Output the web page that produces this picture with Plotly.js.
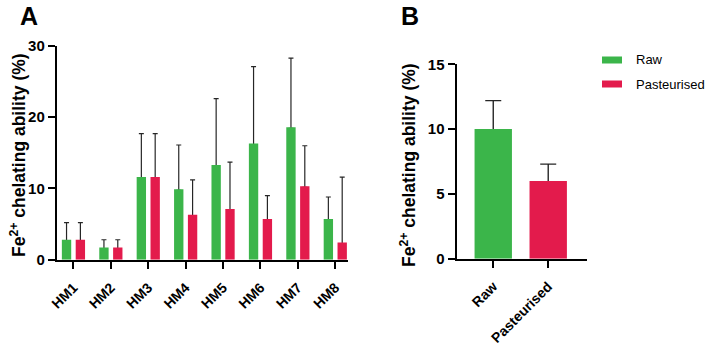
<!DOCTYPE html>
<html>
<head>
<meta charset="utf-8">
<script src="https://cdn.plot.ly/plotly-3.0.1.min.js"></script>
<style>html,body{margin:0;padding:0;background:#fff;}#chart{width:708px;height:344px;}</style>
</head>
<body>
<div id="chart"></div>
<script>
// Panel A: honey samples
const samples = ['HM1', 'HM2', 'HM3', 'HM4', 'HM5', 'HM6', 'HM7', 'HM8'];
const rawMean = [2.8, 1.7, 11.6, 9.9, 13.3, 16.3, 18.6, 5.7];
const rawSD = [2.4, 1.1, 6.1, 6.2, 9.3, 10.8, 9.7, 3.1];
const pastMean = [2.8, 1.7, 11.6, 6.3, 7.1, 5.7, 10.3, 2.4];
const pastSD = [2.4, 1.1, 6.1, 4.9, 6.6, 3.3, 5.7, 9.2];

// Panel B: pooled treatment means
const treatments = ['Raw', 'Pasteurised'];
const treatMean = [10.0, 6.0];
const treatSD = [2.2, 1.3];

const GREEN = '#3bb54a';
const RED = '#e31b4c';
const ERR = '#262626';
const FONT = 'Arial, "Liberation Sans", sans-serif';

// Upper-only error bars: each whisker is carried by a transparent bar
// drawn first, so the solid bar painted afterwards hides the lower end.
const upperErr = (sd, tuck, thickness, width) => ({
  type: 'data', symmetric: false, array: sd,
  arrayminus: sd.map(() => tuck),
  color: ERR, thickness: thickness, width: width
});

function barPair(x, y, sd, opts) {
  const base = {type: 'bar', x: x, y: y, width: opts.width, offset: opts.offset,
                xaxis: opts.xaxis, yaxis: opts.yaxis, showlegend: false, hoverinfo: 'skip'};
  const whiskers = Object.assign({}, base, {
    marker: {color: 'rgba(0,0,0,0)'},
    error_y: upperErr(sd, opts.tuck, opts.thickness, opts.cap)
  });
  const bars = Object.assign({}, base, {name: opts.name, marker: {color: opts.color}});
  return [whiskers, bars];
}

const traces = [].concat(
  barPair(samples, rawMean, rawSD, {name: 'Raw', color: GREEN, width: 0.25, offset: -0.31,
    xaxis: 'x', yaxis: 'y', tuck: 0.16, thickness: 1.2, cap: 2.5}),
  barPair(samples, pastMean, pastSD, {name: 'Pasteurised', color: RED, width: 0.25, offset: 0.06,
    xaxis: 'x', yaxis: 'y', tuck: 0.16, thickness: 1.2, cap: 2.5}),
  barPair(treatments, treatMean, treatSD, {name: 'Treatment', color: [GREEN, RED], width: 0.68, offset: -0.34,
    xaxis: 'x2', yaxis: 'y2', tuck: 0.12, thickness: 1.4, cap: 8})
);

const xCommon = {
  type: 'category', showline: true, linecolor: '#000', linewidth: 2.2,
  ticks: 'outside', ticklen: 7, tickwidth: 2, tickcolor: '#000',
  tickangle: -45, ticklabelstandoff: 5,
  tickfont: {family: FONT, size: 14, color: '#000', weight: 'bold'},
  showgrid: false, zeroline: false, fixedrange: true
};
const yCommon = {
  showline: true, linecolor: '#000', linewidth: 2.2,
  ticks: 'outside', ticklen: 7, tickwidth: 2, tickcolor: '#000',
  tickfont: {family: FONT, size: 15, color: '#000', weight: 'bold'},
  showgrid: false, zeroline: false, fixedrange: true
};

const yTitle = 'Fe<sup>2+</sup> chelating ability (%)';

// legend swatches and labels drawn as shapes/annotations
const legendItems = [
  {label: 'Raw', color: GREEN, y: 60},
  {label: 'Pasteurised', color: RED, y: 84}
];
const H = 344;
const legendShapes = legendItems.map(it => ({
  type: 'rect', xref: 'paper', yref: 'paper',
  x0: 602 / 708, x1: 622 / 708, y0: (H - it.y - 3.5) / H, y1: (H - it.y + 3.5) / H,
  fillcolor: it.color, line: {width: 0}
}));
const legendText = legendItems.map(it => ({
  xref: 'paper', yref: 'paper', x: 634 / 708, y: (H - it.y) / H,
  xanchor: 'left', yanchor: 'middle', showarrow: false,
  text: it.label, font: {family: FONT, size: 13, color: '#000'}
}));

const titleFont = {family: FONT, size: 17.5, color: '#000', weight: 'bold'};

const layout = {
  width: 708, height: 344,
  margin: {l: 0, r: 0, t: 0, b: 0},
  paper_bgcolor: '#fff', plot_bgcolor: '#fff',
  showlegend: false,
  xaxis: Object.assign({}, xCommon, {domain: [57 / 708, 348 / 708], range: [-0.44, 7.34], anchor: 'y'}),
  yaxis: Object.assign({}, yCommon, {domain: [84.3 / 344, 298 / 344], range: [0, 30], tickvals: [0, 10, 20, 30], anchor: 'x'}),
  xaxis2: Object.assign({}, xCommon, {domain: [456.7 / 708, 586.7 / 708], range: [-0.665, 1.7], anchor: 'y2'}),
  yaxis2: Object.assign({}, yCommon, {domain: [85.3 / 344, 279.7 / 344], range: [0, 15], tickvals: [0, 5, 10, 15], anchor: 'x2'}),
  shapes: legendShapes,
  annotations: [
    {xref: 'paper', yref: 'paper', x: 18 / 708, y: (H - 155) / H, textangle: -90,
     showarrow: false, xanchor: 'center', yanchor: 'middle', text: yTitle, font: titleFont},
    {xref: 'paper', yref: 'paper', x: 408 / 708, y: (H - 165) / H, textangle: -90,
     showarrow: false, xanchor: 'center', yanchor: 'middle', text: yTitle, font: titleFont},
    {xref: 'paper', yref: 'paper', x: 18 / 708, y: (H - 0) / H, xanchor: 'left', yanchor: 'top',
     showarrow: false, text: 'A', font: {family: FONT, size: 25, color: '#000', weight: 'bold'}},
    {xref: 'paper', yref: 'paper', x: 399 / 708, y: (H - 0) / H, xanchor: 'left', yanchor: 'top',
     showarrow: false, text: 'B', font: {family: FONT, size: 25, color: '#000', weight: 'bold'}}
  ].concat(legendText)
};

Plotly.newPlot('chart', traces, layout, {displayModeBar: false, staticPlot: true});
</script>
</body>
</html>
